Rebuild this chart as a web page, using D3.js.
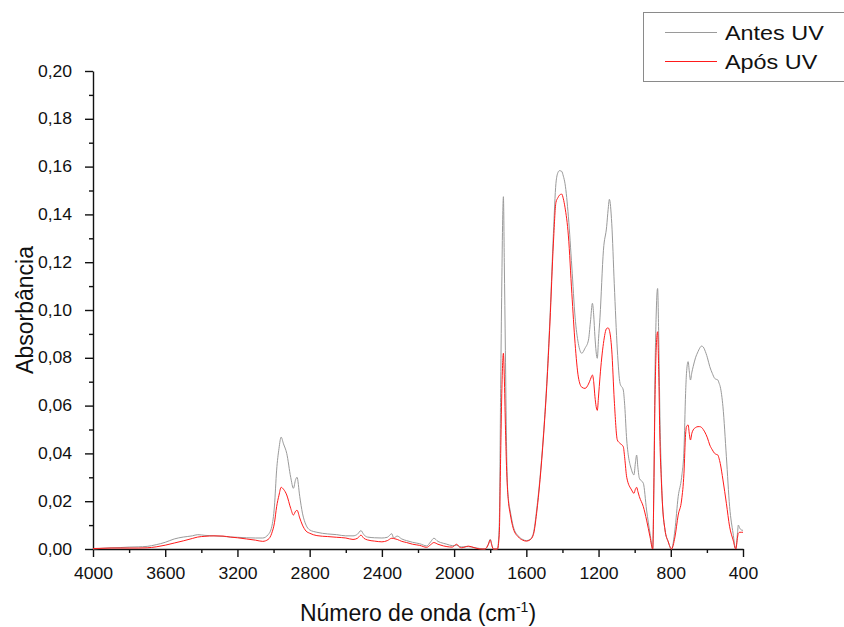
<!DOCTYPE html>
<html>
<head>
<meta charset="utf-8">
<script src="https://cdn.jsdelivr.net/npm/d3@7"></script>
<style>
  html, body { margin: 0; padding: 0; background: #fff; }
  svg { display: block; font-family: "Liberation Sans", Arial, sans-serif; }
</style>
</head>
<body>
<svg id="chart" width="844" height="627"></svg>
<script>
// FTIR spectra
const waveNumbers = [
  4000, 3950, 3900, 3850, 3800, 3750, 3700, 3650, 3600, 3550, 3500, 3450, 3420, 3380, 3330, 3280,
  3240, 3200, 3150, 3100, 3060, 3030, 3010, 2995, 2983, 2970, 2958, 2945, 2927, 2905, 2890, 2878,
  2870, 2855, 2840, 2820, 2800, 2760, 2700, 2650, 2600, 2560, 2535, 2516, 2500, 2480, 2440, 2400,
  2370, 2345, 2335, 2315, 2290, 2263, 2230, 2190, 2152, 2130, 2112, 2090, 2060, 2040, 2010, 1986,
  1970, 1958, 1921, 1890, 1857, 1829, 1810, 1800, 1790, 1783, 1760, 1750, 1742, 1736, 1731, 1727,
  1722, 1716, 1710, 1705, 1698, 1690, 1672, 1644, 1620, 1600, 1580, 1561, 1543, 1524, 1506, 1487,
  1469, 1450, 1436, 1425, 1417, 1404, 1395, 1386, 1367, 1348, 1330, 1312, 1293, 1275, 1256, 1245,
  1234, 1227, 1220, 1207, 1200, 1192, 1173, 1155, 1147, 1140, 1127, 1113, 1096, 1081, 1063, 1055,
  1044, 1017, 1004, 996, 989, 982, 974, 952, 934, 915, 900, 893, 888, 880, 873, 867,
  860, 853, 847, 832, 814, 796, 777, 759, 740, 727, 718, 713, 704, 697, 691, 683,
  676, 663, 649, 640, 630, 620, 612, 597, 584, 570, 557, 548, 539, 533, 526, 511,
  492, 474, 455, 440, 430, 426, 418, 410, 400
];

const antesUV = [
  0.0000, 0.0003, 0.0005, 0.0006, 0.0008, 0.0009, 0.0011, 0.0018, 0.0028, 0.0042, 0.0050, 0.0055, 0.0060, 0.0057, 0.0055, 0.0053,
  0.0050, 0.0049, 0.0047, 0.0046, 0.0046, 0.0060, 0.0093, 0.0180, 0.0330, 0.0420, 0.0468, 0.0440, 0.0400, 0.0300, 0.0254, 0.0290,
  0.0300, 0.0220, 0.0150, 0.0100, 0.0080, 0.0070, 0.0063, 0.0060, 0.0055, 0.0055, 0.0062, 0.0077, 0.0060, 0.0050, 0.0047, 0.0046,
  0.0049, 0.0064, 0.0046, 0.0054, 0.0042, 0.0035, 0.0028, 0.0022, 0.0013, 0.0030, 0.0045, 0.0032, 0.0024, 0.0020, 0.0014, 0.0016,
  0.0010, 0.0009, 0.0010, 0.0006, 0.0002, 0.0000, 0.0020, 0.0041, 0.0015, 0.0000, 0.0000, 0.0100, 0.0690, 0.1100, 0.1380, 0.1474,
  0.1200, 0.0830, 0.0450, 0.0275, 0.0200, 0.0163, 0.0093, 0.0054, 0.0040, 0.0035, 0.0040, 0.0066, 0.0163, 0.0300, 0.0470, 0.0693,
  0.0970, 0.1320, 0.1530, 0.1575, 0.1583, 0.1580, 0.1560, 0.1530, 0.1390, 0.1180, 0.0970, 0.0860, 0.0819, 0.0840, 0.0874, 0.0950,
  0.1028, 0.0980, 0.0888, 0.0798, 0.0880, 0.0970, 0.1250, 0.1350, 0.1420, 0.1463, 0.1363, 0.1110, 0.0833, 0.0693, 0.0665, 0.0600,
  0.0456, 0.0330, 0.0310, 0.0360, 0.0393, 0.0340, 0.0296, 0.0275, 0.0163, 0.0066, 0.0000, 0.0300, 0.0690, 0.1000, 0.1090, 0.0900,
  0.0554, 0.0330, 0.0205, 0.0080, 0.0030, 0.0000, 0.0080, 0.0219, 0.0300, 0.0414, 0.0650, 0.0735, 0.0784, 0.0740, 0.0707, 0.0740,
  0.0763, 0.0800, 0.0826, 0.0840, 0.0849, 0.0845, 0.0833, 0.0800, 0.0763, 0.0735, 0.0714, 0.0710, 0.0707, 0.0695, 0.0679, 0.0595,
  0.0386, 0.0177, 0.0066, 0.0000, 0.0070, 0.0100, 0.0087, 0.0080, 0.0078
];

const aposUV = [
  0.0002, 0.0003, 0.0004, 0.0004, 0.0004, 0.0004, 0.0005, 0.0009, 0.0016, 0.0025, 0.0034, 0.0044, 0.0050, 0.0053, 0.0055, 0.0054,
  0.0050, 0.0047, 0.0042, 0.0037, 0.0032, 0.0040, 0.0066, 0.0110, 0.0177, 0.0225, 0.0258, 0.0250, 0.0226, 0.0170, 0.0142, 0.0158,
  0.0162, 0.0130, 0.0100, 0.0075, 0.0066, 0.0056, 0.0052, 0.0049, 0.0046, 0.0040, 0.0045, 0.0058, 0.0045, 0.0038, 0.0033, 0.0030,
  0.0035, 0.0045, 0.0044, 0.0040, 0.0032, 0.0027, 0.0020, 0.0015, 0.0007, 0.0018, 0.0027, 0.0020, 0.0013, 0.0010, 0.0008, 0.0020,
  0.0008, 0.0005, 0.0012, 0.0006, 0.0000, 0.0000, 0.0020, 0.0038, 0.0012, 0.0000, 0.0000, 0.0060, 0.0400, 0.0650, 0.0780, 0.0819,
  0.0720, 0.0520, 0.0350, 0.0260, 0.0190, 0.0150, 0.0085, 0.0050, 0.0037, 0.0033, 0.0038, 0.0060, 0.0150, 0.0290, 0.0460, 0.0680,
  0.0950, 0.1280, 0.1450, 0.1470, 0.1480, 0.1485, 0.1465, 0.1430, 0.1310, 0.1070, 0.0860, 0.0720, 0.0677, 0.0672, 0.0690, 0.0710,
  0.0728, 0.0700, 0.0637, 0.0580, 0.0640, 0.0720, 0.0860, 0.0923, 0.0925, 0.0915, 0.0833, 0.0623, 0.0456, 0.0442, 0.0428, 0.0380,
  0.0300, 0.0247, 0.0233, 0.0250, 0.0258, 0.0240, 0.0219, 0.0177, 0.0121, 0.0051, 0.0000, 0.0300, 0.0600, 0.0850, 0.0909, 0.0750,
  0.0450, 0.0300, 0.0200, 0.0080, 0.0030, 0.0000, 0.0050, 0.0142, 0.0205, 0.0317, 0.0480, 0.0512, 0.0519, 0.0480, 0.0456, 0.0485,
  0.0498, 0.0508, 0.0512, 0.0512, 0.0509, 0.0500, 0.0490, 0.0465, 0.0435, 0.0415, 0.0400, 0.0396, 0.0393, 0.0380, 0.0358, 0.0289,
  0.0191, 0.0093, 0.0038, 0.0000, 0.0050, 0.0066, 0.0070, 0.0070, 0.0070
];

const seriesNames = ["Antes UV", "Após UV"];
const seriesColors = ["#9a9a9a", "#ff1a1a"];

const xTicks = [4000, 3600, 3200, 2800, 2400, 2000, 1600, 1200, 800, 400];
const yTicks = [0, 0.02, 0.04, 0.06, 0.08, 0.10, 0.12, 0.14, 0.16, 0.18, 0.20];

const svg = d3.select("#chart");
const m = { left: 93, right: 743, top: 71, bottom: 549 };

const x = d3.scaleLinear().domain([4000, 400]).range([m.left, m.right]);
const y = d3.scaleLinear().domain([0, 0.2]).range([m.bottom, m.top]);

const fmt = d => d3.format(".2f")(d).replace(".", ",");
const SX = 1.1;   // the reference text is a little wider than Arial

// minor ticks first so the major ones sit on top
svg.append("g")
  .attr("transform", `translate(0,${m.bottom})`)
  .call(d3.axisBottom(x).tickValues(d3.range(3800, 400, -400)).tickSize(4).tickFormat(""))
  .call(g => g.select(".domain").remove());
svg.append("g")
  .attr("transform", `translate(${m.left},0)`)
  .call(d3.axisLeft(y).tickValues(d3.range(0.01, 0.2, 0.02)).tickSize(4).tickFormat(""))
  .call(g => g.select(".domain").remove());

const xAxis = svg.append("g")
  .attr("transform", `translate(0,${m.bottom})`)
  .call(d3.axisBottom(x).tickValues(xTicks).tickSizeInner(8).tickSizeOuter(0).tickPadding(11).tickFormat(d3.format("d")));
const yAxis = svg.append("g")
  .attr("transform", `translate(${m.left},0)`)
  .call(d3.axisLeft(y).tickValues(yTicks).tickSizeInner(8).tickSizeOuter(0).tickPadding(11).tickFormat(fmt));

svg.selectAll(".tick line, .domain").attr("stroke", "#111").attr("stroke-width", 1.4);
[xAxis, yAxis].forEach(a => a.selectAll("text")
  .attr("fill", "#111")
  .style("font-size", "16px")
  .style("font-family", "'Liberation Sans', Arial, sans-serif")
  .attr("transform", `scale(${SX},1)`));

// spectra
const line = d3.line().x(d => x(d[0])).y(d => y(d[1])).curve(d3.curveMonotoneX);
[antesUV, aposUV].forEach((vals, i) => {
  svg.append("path")
    .datum(waveNumbers.map((w, k) => [w, vals[k]]))
    .attr("fill", "none")
    .attr("stroke", seriesColors[i])
    .attr("stroke-width", 1)
    .attr("d", line);
});

// axis titles
const xt = svg.append("text")
  .attr("x", (m.left + m.right) / 2).attr("y", 620.5)
  .attr("text-anchor", "middle")
  .style("font-size", "23px").attr("fill", "#111");
xt.append("tspan").text("Número de onda (cm");
xt.append("tspan").attr("dy", -9).style("font-size", "14px").text("-1");
xt.append("tspan").attr("dy", 9).text(")");

svg.append("text")
  .attr("transform", `translate(33,${(m.top + m.bottom) / 2}) rotate(-90)`)
  .attr("text-anchor", "middle")
  .style("font-size", "23px").attr("fill", "#111")
  .text("Absorbância");

// legend
const leg = svg.append("g");
leg.append("rect")
  .attr("x", 643.5).attr("y", 12.5).attr("width", 220).attr("height", 69)
  .attr("fill", "#fff").attr("stroke", "#8a8a8a").attr("stroke-width", 1);
seriesNames.forEach((name, i) => {
  const ly = 32.5 + i * 29;
  leg.append("line")
    .attr("x1", 665).attr("x2", 717).attr("y1", ly).attr("y2", ly)
    .attr("stroke", seriesColors[i]).attr("stroke-width", 1);
  leg.append("text")
    .attr("transform", `translate(725,${ly + 7}) scale(1.17,1)`)
    .style("font-size", "20px").attr("fill", "#111")
    .text(name);
});
</script>
</body>
</html>
